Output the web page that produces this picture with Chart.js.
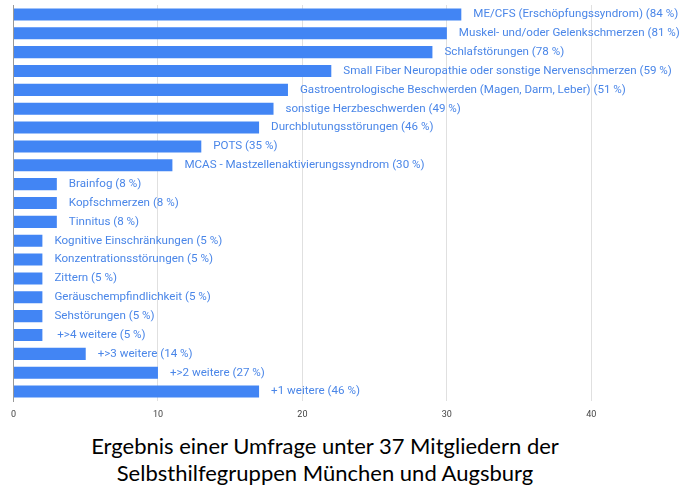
<!DOCTYPE html>
<html>
<head>
<meta charset="utf-8">
<script src="https://cdn.jsdelivr.net/npm/chart.js@4"></script>
<style>
  html, body { margin: 0; padding: 0; background: #fff; }
  #wrap { width: 680px; height: 430px; }
  #title {
    width: 650px; padding: 2px 30px 0 0; margin: 0;
    font: 22px/27px Lato, sans-serif; color: #000; text-align: center;
  }
</style>
</head>
<body>
<div id="wrap"><canvas id="chart"></canvas></div>
<div id="title"></div>
<script>
// Beschwerden, Anzahl der Nennungen (von 37) und Anteil in %
const categories = [
  'ME/CFS (Erschöpfungssyndrom)',
  'Muskel- und/oder Gelenkschmerzen',
  'Schlafstörungen',
  'Small Fiber Neuropathie oder sonstige Nervenschmerzen',
  'Gastroentrologische Beschwerden (Magen, Darm, Leber)',
  'sonstige Herzbeschwerden',
  'Durchblutungsstörungen',
  'POTS',
  'MCAS - Mastzellenaktivierungssyndrom',
  'Brainfog',
  'Kopfschmerzen',
  'Tinnitus',
  'Kognitive Einschränkungen',
  'Konzentrationsstörungen',
  'Zittern',
  'Geräuschempfindlichkeit',
  'Sehstörungen',
  ' +>4 weitere',
  '+>3 weitere',
  '+>2 weitere',
  '+1 weitere'
];
const counts = [31, 30, 29, 22, 19, 18, 17, 13, 11, 3, 3, 3, 2, 2, 2, 2, 2, 2, 5, 10, 17];
const percents = [84, 81, 78, 59, 51, 49, 46, 35, 30, 8, 8, 8, 5, 5, 5, 5, 5, 5, 14, 27, 46];
const xTicks = [0, 10, 20, 30, 40];
const titleLines = [
  'Ergebnis einer Umfrage unter 37 Mitgliedern der',
  'Selbsthilfegruppen München und Augsburg'
];

document.getElementById('title').innerHTML = titleLines.join('<br>');

const barLabels = {
  id: 'barLabels',
  afterDatasetsDraw(chart) {
    const ctx = chart.ctx;
    const meta = chart.getDatasetMeta(0);
    ctx.save();
    ctx.font = '11.6px Roboto';
    ctx.fillStyle = '#4a86e8';
    ctx.textBaseline = 'middle';
    ctx.textAlign = 'left';
    meta.data.forEach((bar, i) => {
      ctx.fillText(`${categories[i]} (${percents[i]} %)`, bar.x + 12, bar.y);
    });
    ctx.restore();
  }
};

new Chart(document.getElementById('chart'), {
  type: 'bar',
  data: {
    labels: categories,
    datasets: [{
      data: counts,
      backgroundColor: '#4285f4',
      borderWidth: 0,
      categoryPercentage: 1,
      barPercentage: 0.64
    }]
  },
  options: {
    indexAxis: 'y',
    responsive: true,
    maintainAspectRatio: false,
    animation: false,
    layout: { padding: { left: 13.5, right: 2, top: 5, bottom: 9 } },
    plugins: {
      legend: { display: false },
      tooltip: { enabled: false }
    },
    scales: {
      x: {
        min: 0,
        max: 46,
        afterBuildTicks(scale) {
          scale.ticks = xTicks.map(v => ({ value: v }));
        },
        afterFit(scale) { scale.height = 20; },
        grid: { color: '#e0e0e0', drawTicks: false },
        border: { display: false },
        ticks: { color: '#444', font: { family: 'Roboto', size: 9 }, padding: 8, maxRotation: 0 }
      },
      y: {
        afterFit(scale) { scale.width = 0; },
        grid: { display: false },
        border: { display: true, color: '#999' },
        ticks: { display: false }
      }
    }
  },
  plugins: [barLabels]
});
</script>
</body>
</html>
